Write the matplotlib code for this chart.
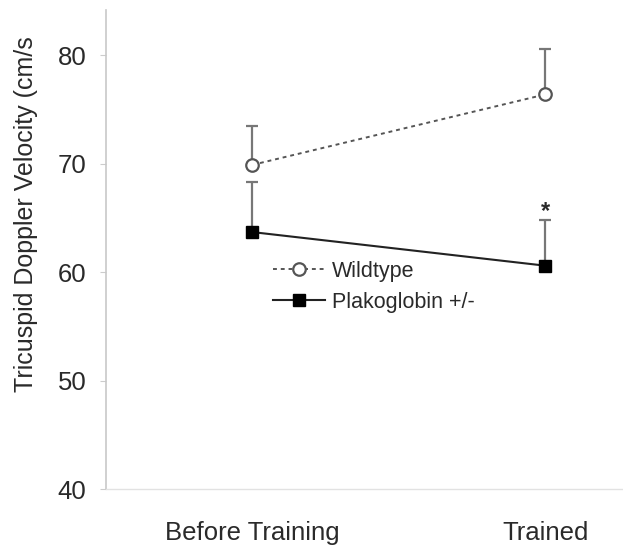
import matplotlib.pyplot as plt

# Group means and upper SEM at the two time points
groups = ["Before Training", "Trained"]
wildtype = [69.9, 76.4]
wildtype_err = [3.6, 4.2]
plakoglobin = [63.7, 60.6]
plakoglobin_err = [4.6, 4.2]

plt.rcParams['font.family'] = ['Liberation Sans', 'DejaVu Sans']

fig = plt.figure(figsize=(6.23, 5.47), dpi=100)
ax = fig.add_axes([0.170, 0.106, 0.830, 0.876])

x = [1, 2]
text_col = '#2a2a2a'

# error bars (upper only)
ax.errorbar(x, wildtype, yerr=[[0, 0], wildtype_err], fmt='none',
            ecolor='#777777', elinewidth=1.6, capsize=4, capthick=1.6, zorder=2)
ax.errorbar(x, plakoglobin, yerr=[[0, 0], plakoglobin_err], fmt='none',
            ecolor='#777777', elinewidth=1.6, capsize=4, capthick=1.6, zorder=2)

ax.plot(x, wildtype, linestyle=(0, (2, 2)), color='#555555', linewidth=1.4,
        marker='o', markersize=9, markerfacecolor='white',
        markeredgecolor='#555555', markeredgewidth=1.6, label='Wildtype', zorder=3)
ax.plot(x, plakoglobin, linestyle='-', color='#222222', linewidth=1.5,
        marker='s', markersize=9, markerfacecolor='black',
        markeredgecolor='black', label='Plakoglobin +/-', zorder=3)

# significance marker
ax.text(2, plakoglobin[1] + plakoglobin_err[1] - 0.3, '*', ha='center', va='bottom',
        fontsize=17, fontweight='bold', color=text_col)

ax.set_xlim(0.5, 2.265)
ax.set_ylim(40, 84.2)
ax.set_yticks([40, 50, 60, 70, 80])
ax.set_xticks(x)
ax.set_xticklabels(groups)
ax.tick_params(axis='x', length=0, pad=23, labelsize=18.5, labelcolor=text_col)
ax.tick_params(axis='y', length=4, width=0.8, color='#cccccc', pad=10,
               labelsize=18.5, labelcolor=text_col)
ax.set_ylabel('Tricuspid Doppler Velocity (cm/s', fontsize=18, color=text_col)
ax.yaxis.set_label_coords(-0.132, 0.574)

for side in ['top', 'right']:
    ax.spines[side].set_visible(False)
ax.spines['left'].set_color('#c8c8c8')
ax.spines['left'].set_linewidth(1.2)
ax.spines['bottom'].set_color('#e2e2e2')
ax.spines['bottom'].set_linewidth(1.0)

leg = ax.legend(loc='upper left', bbox_to_anchor=(0.323, 0.476), frameon=False,
                fontsize=15.5, handlelength=2.4, handletextpad=0.35,
                borderpad=0, borderaxespad=0, labelspacing=0.45)
for t in leg.get_texts():
    t.set_color(text_col)

fig.savefig('out.png', dpi=100)
